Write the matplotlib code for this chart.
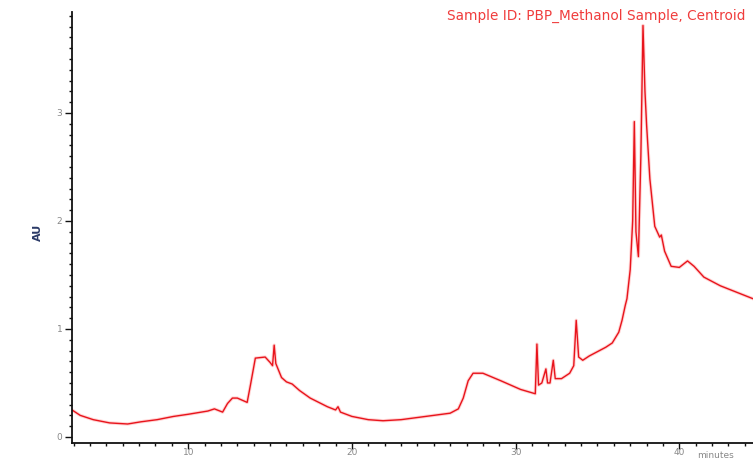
import matplotlib
matplotlib.use("Agg")
from matplotlib import pyplot as plt
from matplotlib.ticker import MultipleLocator

# chromatogram trace, retention time (min) vs response (AU)
rt = [2.9, 3.4, 4.2, 5.2, 6.3, 7.1, 8.1, 9.1, 10.0, 11.2, 11.6, 12.1, 12.4, 12.7,
      13.0, 13.6, 13.8, 14.1, 14.7, 15.0, 15.15, 15.25, 15.35, 15.7, 16.0, 16.35,
      16.8, 17.45, 18.5, 19.0, 19.15, 19.3, 20.0, 21.0, 21.9, 23.0, 24.0, 25.0,
      26.0, 26.5, 26.8, 27.1, 27.4, 28.0, 29.1, 30.3, 31.2, 31.3, 31.4, 31.6,
      31.85, 31.95, 32.1, 32.3, 32.42, 32.8, 33.3, 33.55, 33.7, 33.85, 34.1, 34.5,
      35.0, 35.5, 35.9, 36.3, 36.5, 36.7, 36.8, 37.0, 37.15, 37.25, 37.35, 37.5,
      37.65, 37.78, 37.9, 38.0, 38.2, 38.5, 38.8, 38.9, 39.1, 39.5, 40.0, 40.5,
      40.9, 41.5, 42.5, 43.5, 44.5]
au = [0.25, 0.20, 0.16, 0.13, 0.12, 0.14, 0.16, 0.19, 0.21, 0.24, 0.26, 0.23, 0.31, 0.36,
      0.36, 0.32, 0.48, 0.73, 0.74, 0.69, 0.66, 0.85, 0.68, 0.55, 0.51, 0.49,
      0.43, 0.36, 0.28, 0.25, 0.28, 0.23, 0.19, 0.16, 0.15, 0.16, 0.18, 0.20,
      0.22, 0.26, 0.36, 0.52, 0.59, 0.59, 0.52, 0.44, 0.40, 0.86, 0.48, 0.50,
      0.63, 0.50, 0.50, 0.71, 0.54, 0.54, 0.59, 0.66, 1.08, 0.74, 0.71, 0.75,
      0.79, 0.83, 0.87, 0.97, 1.08, 1.22, 1.28, 1.55, 2.0, 2.92, 1.9, 1.67,
      2.6, 3.81, 3.2, 2.89, 2.39, 1.95, 1.85, 1.87, 1.72, 1.58, 1.57, 1.63,
      1.58, 1.48, 1.40, 1.34, 1.28]

x_ticks = [10, 20, 30, 40]
y_ticks = [0, 1, 2, 3]

fig = plt.figure(figsize=(7.53, 4.58), dpi=100)
ax = fig.add_axes([72 / 753, 1 - 443 / 458, 1 - 72 / 753, (443 - 12) / 458])

ax.plot(rt, au, color='#ff3b3b', lw=2.4, alpha=0.22, solid_joinstyle='round')
ax.plot(rt, au, color='#e8141c', lw=1.0, solid_joinstyle='round')

ax.set_xlim(2.9, 44.5)
ax.set_ylim(-0.056, 3.935)
ax.set_xticks(x_ticks)
ax.set_yticks(y_ticks)
ax.xaxis.set_minor_locator(MultipleLocator(1))
ax.yaxis.set_minor_locator(MultipleLocator(0.1))

for side in ['top', 'right']:
    ax.spines[side].set_visible(False)
for side in ['left', 'bottom']:
    ax.spines[side].set_linewidth(1.3)
    ax.spines[side].set_color('#111111')

ax.tick_params(axis='both', which='major', direction='out', length=5, width=1,
               labelsize=6.5, colors='#111111')
ax.tick_params(axis='both', which='minor', direction='out', length=2.5, width=1,
               colors='#111111')
ax.tick_params(axis='x', which='major', length=4, pad=-0.5)
ax.tick_params(axis='y', which='major', pad=2)
for lab in ax.get_xticklabels() + ax.get_yticklabels():
    lab.set_color('#888888')

fig.text(38 / 753, 1 - 232 / 458, 'AU', rotation=90, ha='center', va='center',
         fontsize=8, fontweight='bold', color='#2b3a67')
fig.text(745 / 753, 1 - 16 / 458, 'Sample ID: PBP_Methanol Sample, Centroid',
         ha='right', va='center', fontsize=9.8, color='#f03c3c')
fig.text(697 / 753, 1 - 455 / 458, 'minutes', ha='left', va='center',
         fontsize=6.5, color='#888888')

fig.savefig('out.png', dpi=100)
